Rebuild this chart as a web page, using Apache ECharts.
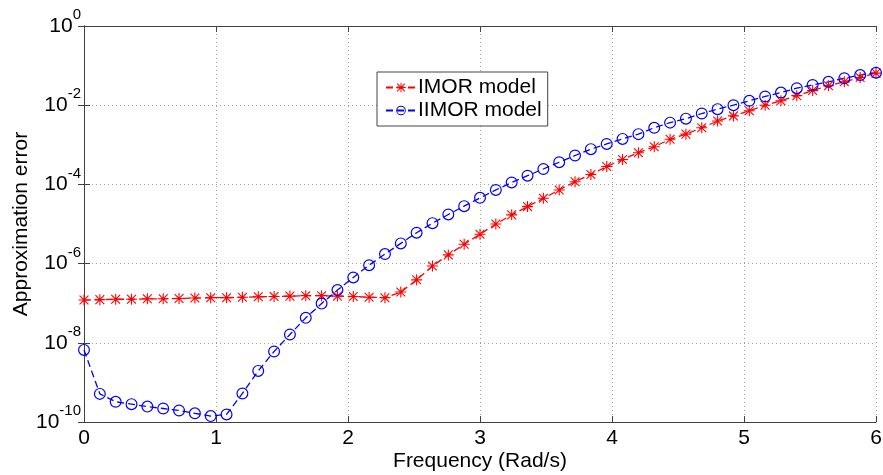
<!DOCTYPE html>
<html>
<head>
<meta charset="utf-8">
<script src="https://cdn.jsdelivr.net/npm/echarts@6/dist/echarts.min.js"></script>
<style>html,body{margin:0;padding:0;background:#fff}#c{width:883px;height:475px}</style>
</head>
<body>
<div id="c"></div>
<script>
const freq = [0,0.12,0.24,0.36,0.48,0.6,0.72,0.84,0.96,1.08,1.2,1.32,1.44,1.56,1.68,1.8,1.92,2.04,2.16,2.28,2.4,2.52,2.64,2.76,2.88,3,3.12,3.24,3.36,3.48,3.6,3.72,3.84,3.96,4.08,4.2,4.32,4.44,4.56,4.68,4.8,4.92,5.04,5.16,5.28,5.4,5.52,5.64,5.76,5.88,6];
const imor = [1.20e-7,1.23e-7,1.26e-7,1.26e-7,1.29e-7,1.29e-7,1.32e-7,1.35e-7,1.38e-7,1.38e-7,1.41e-7,1.45e-7,1.48e-7,1.51e-7,1.55e-7,1.55e-7,1.51e-7,1.48e-7,1.41e-7,1.38e-7,1.91e-7,3.89e-7,8.71e-7,1.66e-6,3.09e-6,5.50e-6,1.00e-5,1.70e-5,2.75e-5,4.47e-5,7.24e-5,1.17e-4,1.78e-4,2.82e-4,4.27e-4,6.31e-4,8.91e-4,1.38e-3,1.86e-3,2.69e-3,3.98e-3,5.37e-3,7.24e-3,1.00e-2,1.29e-2,1.74e-2,2.34e-2,3.09e-2,3.89e-2,5.01e-2,6.46e-2];
const iimor = [6.61e-9,5.13e-10,3.24e-10,2.82e-10,2.45e-10,2.19e-10,1.95e-10,1.66e-10,1.41e-10,1.55e-10,5.25e-10,1.95e-9,6.03e-9,1.62e-8,4.27e-8,9.77e-8,2.14e-7,4.47e-7,9.12e-7,1.74e-6,3.24e-6,6.03e-6,1.05e-5,1.74e-5,2.82e-5,4.57e-5,7.24e-5,1.12e-4,1.66e-4,2.45e-4,3.63e-4,5.37e-4,7.76e-4,1.05e-3,1.41e-3,1.86e-3,2.69e-3,3.63e-3,4.57e-3,6.17e-3,7.94e-3,1.00e-2,1.29e-2,1.66e-2,2.09e-2,2.69e-2,3.24e-2,3.89e-2,4.79e-2,5.75e-2,6.61e-2];
const xTicks = [0,1,2,3,4,5,6];
const seriesNames = ['IMOR model','IIMOR model'];
const xName = 'Frequency (Rad/s)';
const yName = 'Approximation error';

const FONT = '"Liberation Sans", Arial, sans-serif';
const AX = '#404040';
const star = 'path://M9,0L11,0L11,20L9,20Z M0,9L20,9L20,11L0,11Z M1.3,2.7L2.7,1.3L18.7,17.3L17.3,18.7Z M17.3,1.3L18.7,2.7L2.7,18.7L1.3,17.3Z';
const ring = 'path://M10,0A10,10 0 1,1 10,20A10,10 0 1,1 10,0Z M10,2A8,8 0 1,0 10,18A8,8 0 1,0 10,2Z';

const chart = echarts.init(document.getElementById('c'), null, {renderer:'canvas'});
const gridLine = {show:true, lineStyle:{color:'#a0a0a0', width:1, type:[1,3]}};
chart.setOption({
  animation:false,
  backgroundColor:'#fff',
  grid:{left:84, right:7, top:26, bottom:53, containLabel:false, outerBoundsMode:'none'},
  legend:{
    left:377, top:72, orient:'vertical',
    backgroundColor:'#fff', borderColor:'#444', borderWidth:1,
    padding:[5,6,5,8], itemGap:2, itemWidth:30, itemHeight:12,
    textStyle:{fontFamily:FONT, fontSize:21, color:'#000', padding:[0,0,0,-3]},
    data:seriesNames
  },
  xAxis:[{
    type:'value', min:xTicks[0], max:xTicks[xTicks.length-1], interval:1,
    name:xName, nameLocation:'middle', nameGap:29, nameMoveOverlap:false,
    nameTextStyle:{fontFamily:FONT, fontSize:21, color:'#000'},
    axisLine:{show:true, lineStyle:{color:AX, width:1}},
    axisTick:{show:true, inside:true, length:6, lineStyle:{color:AX}},
    axisLabel:{fontFamily:FONT, fontSize:21, color:'#000', margin:6},
    splitLine:gridLine
  },{
    type:'value', position:'top', min:xTicks[0], max:xTicks[xTicks.length-1], interval:1,
    axisLine:{show:true, lineStyle:{color:AX, width:1}},
    axisTick:{show:true, inside:true, length:6, lineStyle:{color:AX}},
    axisLabel:{show:false}, splitLine:{show:false}
  }],
  yAxis:[{
    type:'log', logBase:10, min:1e-10, max:1, interval:2,
    name:yName, nameLocation:'middle', nameGap:52, nameRotate:90, nameMoveOverlap:false,
    nameTextStyle:{fontFamily:FONT, fontSize:21, color:'#000'},
    axisLine:{show:true, lineStyle:{color:AX, width:1}},
    axisTick:{show:true, inside:true, length:6, lineStyle:{color:AX}},
    minorTick:{show:false},
    axisLabel:{
      margin:3, color:'#000',
      formatter:function(v){const e=Math.round(Math.log10(v));return '{b|10}{s|'+e+'}';},
      rich:{
        b:{fontFamily:FONT, fontSize:21, color:'#000', lineHeight:21},
        s:{fontFamily:FONT, fontSize:15, color:'#000', lineHeight:15, padding:[0,0,22,0]}
      }
    },
    splitLine:gridLine
  },{
    type:'log', logBase:10, min:1e-10, max:1, interval:2, position:'right',
    axisLine:{show:true, lineStyle:{color:AX, width:1}},
    axisTick:{show:true, inside:true, length:6, lineStyle:{color:AX}},
    axisLabel:{show:false}, splitLine:{show:false}
  }],
  series:[{
    name:seriesNames[0], type:'line', xAxisIndex:0, yAxisIndex:0,
    data:freq.map((x,i)=>[x, imor[i]]),
    symbol:star, symbolSize:11,
    color:'#ff0000',
    itemStyle:{color:'#ff0000', borderWidth:0},
    lineStyle:{color:'#ff0000', width:1.3, type:[7,4]}
  },{
    name:seriesNames[1], type:'line', xAxisIndex:0, yAxisIndex:0,
    data:freq.map((x,i)=>[x, iimor[i]]),
    symbol:ring, symbolSize:12,
    color:'#0000ff',
    itemStyle:{color:'#0000ff', borderWidth:0},
    lineStyle:{color:'#0000ff', width:1.3, type:[7,4]}
  }]
});
</script>
</body>
</html>
